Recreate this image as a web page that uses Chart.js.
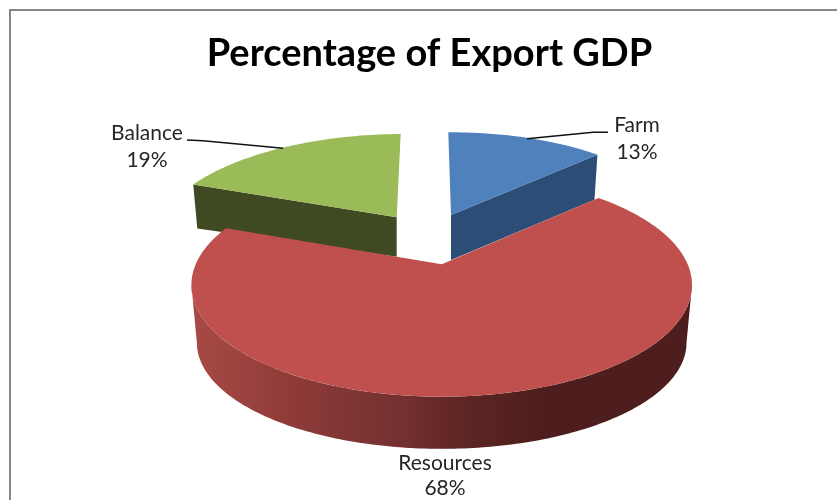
<!DOCTYPE html>
<html>
<head>
<meta charset="utf-8">
<title>Percentage of Export GDP</title>
<script src="https://cdn.jsdelivr.net/npm/chart.js@4"></script>
<style>
  html, body { margin: 0; background: #fff; }
  canvas { display: block; }
</style>
</head>
<body>
<canvas id="my-chart" width="837" height="500"></canvas>
<script>
const categories = ['Farm', 'Resources', 'Balance'];
const shares = [13, 68, 19];

const topColors = ['#4f81bd', '#c0504d', '#9bbb59'];
const sideColors = ['#2c4d75', '#c0504d', '#3f4a23'];
const FONT = 'Lato, Carlito, sans-serif';
const TILT = 0.185; // how strongly the disc narrows towards the back

// where each exploded slice sits on the page
const slicePlace = [
  { x: 451, y: 215, rx: 229.7, ry: 98, lean: 0, drop: 45, dropY: 1, shrink: 0.98 },
  { x: 441.7, y: 264.3, rx: 246, ry: 107.9, lean: 0, drop: 58.8, dropY: 0.95, shrink: 0.978 },
  { x: 396.7, y: 217.3, rx: 235, ry: 98.7, lean: -8, drop: 39.4, dropY: 0.856, shrink: 0.98 },
];
const labelPlace = [
  { x: 637, y: 125, lineGap: 27, lead: [[608, 132.3], [593, 132.3], [527, 138.8]] },
  { x: 445, y: 463, lineGap: 25, lead: [] },
  { x: 147, y: 133, lineGap: 27, lead: [[187, 140], [203, 140.7], [283, 148.3]] },
];

// perspective projection of a disc point, top face or bottom face
function project(s, px, py, bottom) {
  const w = 1 - TILT * py;
  let dx = (s.rx * px + s.lean * py) / w;
  let dy = s.ry * py / w;
  if (bottom) {
    dx *= s.shrink;
    dy = s.drop + dy * s.dropY;
  }
  return [s.x + dx, s.y + dy];
}

function rimPath(ctx, s, from, to, bottom, first) {
  const steps = Math.max(2, Math.ceil(Math.abs(to - from) * 60));
  for (let i = 0; i <= steps; i++) {
    const a = from + (to - from) * i / steps;
    const p = project(s, Math.cos(a), Math.sin(a), bottom);
    if (first && i === 0) ctx.moveTo(p[0], p[1]);
    else ctx.lineTo(p[0], p[1]);
  }
}

function drawTop(ctx, s, arc, color) {
  const apex = project(s, 0, 0, false);
  ctx.beginPath();
  ctx.moveTo(apex[0], apex[1]);
  rimPath(ctx, s, arc.startAngle, arc.endAngle, false, false);
  ctx.closePath();
  ctx.fillStyle = color;
  ctx.fill();
}

// cut face that looks towards the viewer, between the centre and one rim end
function drawCut(ctx, s, angle, color) {
  const px = Math.cos(angle), py = Math.sin(angle);
  const a = project(s, 0, 0, false), b = project(s, px, py, false);
  const c = project(s, px, py, true), d = project(s, 0, 0, true);
  ctx.beginPath();
  ctx.moveTo(a[0], a[1]);
  ctx.lineTo(b[0], b[1]);
  ctx.lineTo(c[0], c[1]);
  ctx.lineTo(d[0], d[1]);
  ctx.closePath();
  ctx.fillStyle = color;
  ctx.fill();
}

function drawRimWall(ctx, s, arc) {
  // only the part of the wall that faces the front, tangent to tangent
  const edge = Math.asin(TILT);
  const from = Math.max(arc.startAngle, edge);
  const to = Math.min(arc.endAngle, Math.PI - edge);
  const g = ctx.createLinearGradient(197, 0, 690, 0);
  g.addColorStop(0, '#a64945');
  g.addColorStop(0.21, '#8c3a37');
  g.addColorStop(0.41, '#743130');
  g.addColorStop(0.53, '#5f2624');
  g.addColorStop(0.7, '#4d1e1d');
  g.addColorStop(1, '#4d1e1d');
  ctx.beginPath();
  rimPath(ctx, s, from, to, false, true);
  rimPath(ctx, s, to, from, true, false);
  ctx.closePath();
  ctx.fillStyle = g;
  ctx.fill();
}

const pie3d = {
  id: 'pie3d',
  beforeDraw(chart) {
    const ctx = chart.ctx;
    ctx.save();
    ctx.fillStyle = '#868686';
    ctx.fillRect(9, 9, 828, 2);
    ctx.fillRect(9, 9, 2, 491);
    ctx.restore();
  },
  // the slices come from the pie controller, only their painting is replaced
  beforeDatasetsDraw(chart) {
    const ctx = chart.ctx;
    const arcs = chart.getDatasetMeta(0).data;
    ctx.save();
    drawCut(ctx, slicePlace[0], arcs[0].endAngle, sideColors[0]);
    drawTop(ctx, slicePlace[0], arcs[0], topColors[0]);
    drawCut(ctx, slicePlace[2], arcs[2].startAngle, sideColors[2]);
    drawTop(ctx, slicePlace[2], arcs[2], topColors[2]);
    drawRimWall(ctx, slicePlace[1], arcs[1]);
    drawTop(ctx, slicePlace[1], arcs[1], topColors[1]);
    ctx.restore();
    return false;
  },
  afterDraw(chart) {
    const ctx = chart.ctx;
    ctx.save();
    ctx.textAlign = 'center';
    ctx.textBaseline = 'middle';
    ctx.font = '21px ' + FONT;
    categories.forEach((name, i) => {
      const l = labelPlace[i];
      ctx.fillStyle = '#262626';
      ctx.fillText(name, l.x, l.y);
      ctx.fillText(shares[i] + '%', l.x, l.y + l.lineGap);
      if (l.lead.length) {
        ctx.beginPath();
        l.lead.forEach((p, n) => n ? ctx.lineTo(p[0], p[1]) : ctx.moveTo(p[0], p[1]));
        ctx.strokeStyle = '#111';
        ctx.lineWidth = 1.4;
        ctx.stroke();
      }
    });
    ctx.restore();
  },
};

new Chart(document.getElementById('my-chart').getContext('2d'), {
  type: 'pie',
  data: {
    labels: categories,
    datasets: [{ data: shares, backgroundColor: topColors, borderWidth: 0 }],
  },
  options: {
    responsive: false,
    animation: false,
    rotation: -0.8,
    layout: { padding: { left: 22, top: 31 } },
    plugins: {
      legend: { display: false },
      tooltip: { enabled: false },
      title: {
        display: true,
        text: 'Percentage of Export GDP',
        color: '#000',
        font: { family: FONT, size: 38, weight: 'bold' },
        padding: 0,
      },
    },
  },
  plugins: [pie3d],
});
</script>
</body>
</html>
